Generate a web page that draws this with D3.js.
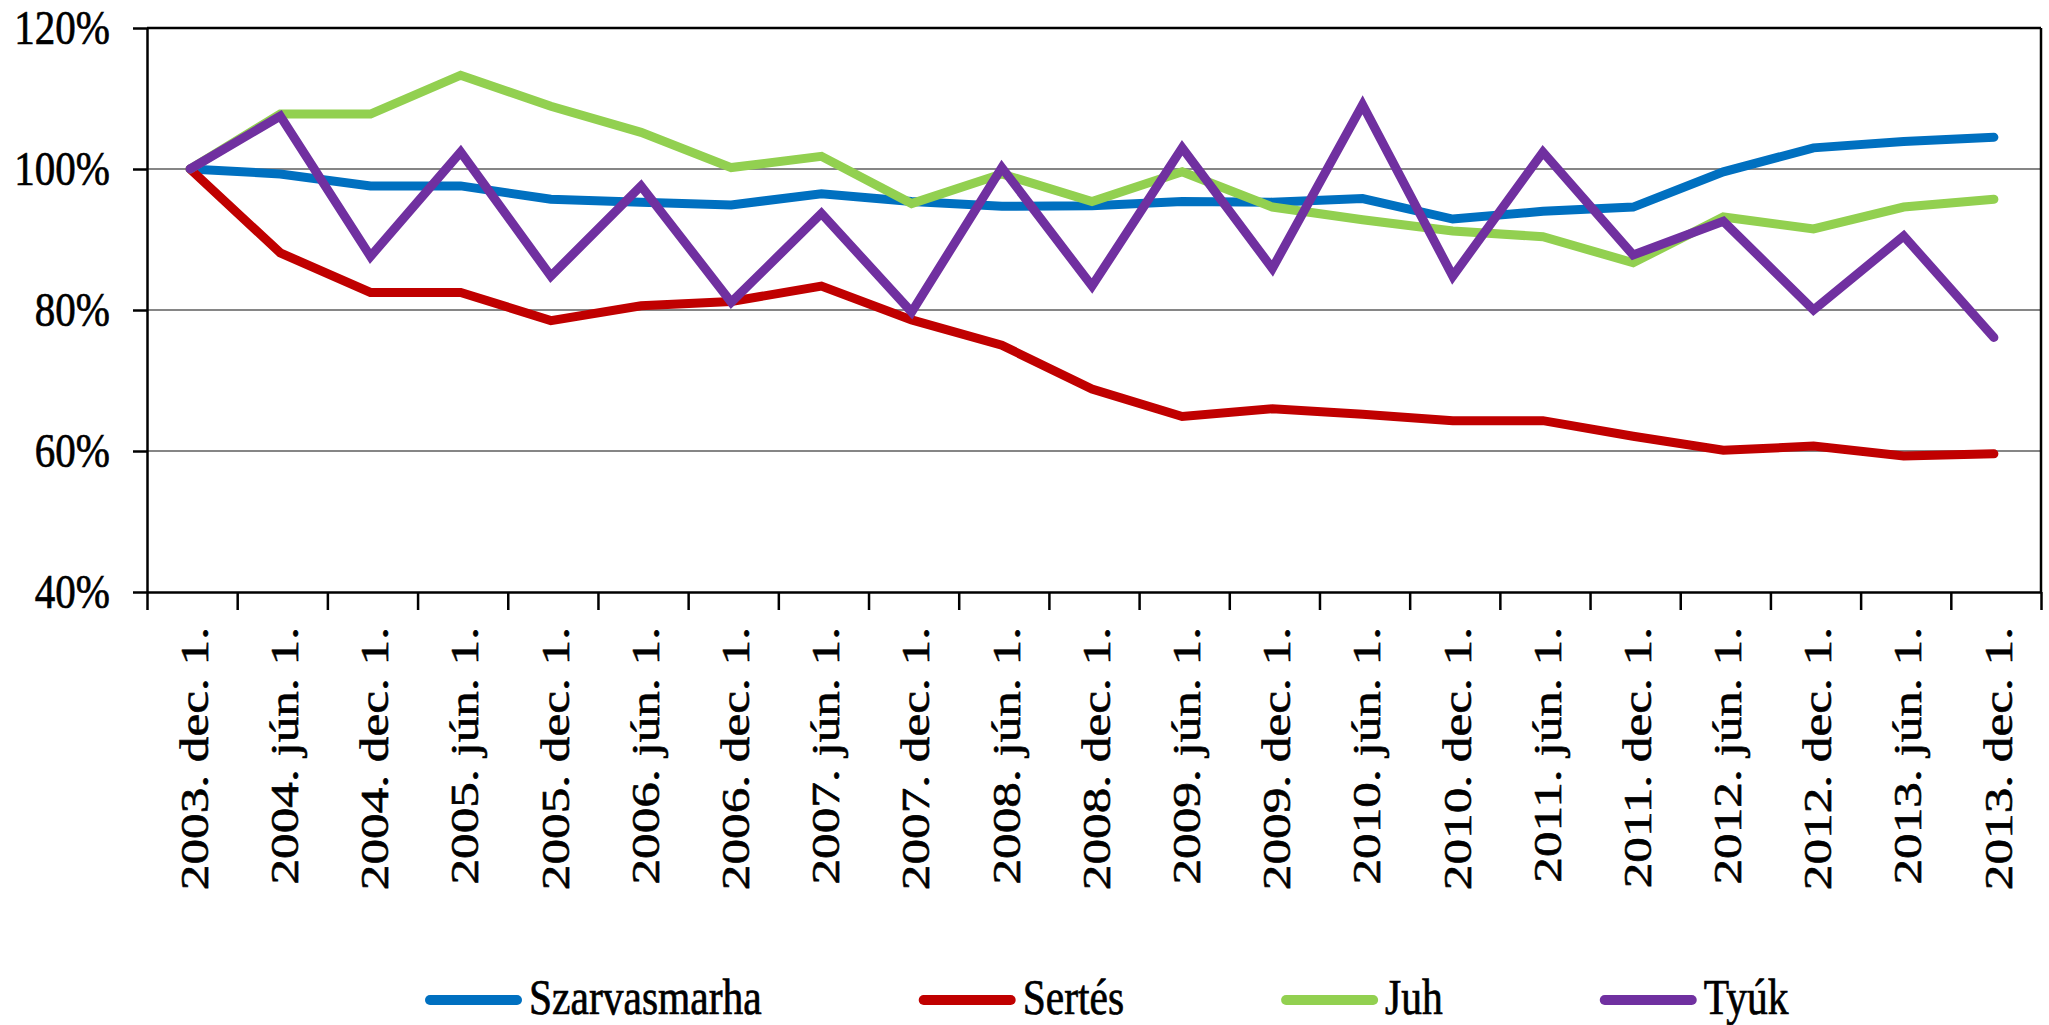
<!DOCTYPE html>
<html>
<head>
<meta charset="utf-8">
<script src="https://cdn.jsdelivr.net/npm/d3@7"></script>
<style>
  html, body { margin: 0; padding: 0; background: #fff; }
</style>
</head>
<body>
<div id="chart"></div>
<script>
// ---------- data ----------
const categories = [
  '2003. dec. 1.', '2004. jún. 1.', '2004. dec. 1.', '2005. jún. 1.', '2005. dec. 1.',
  '2006. jún. 1.', '2006. dec. 1.', '2007. jún. 1.', '2007. dec. 1.', '2008. jún. 1.',
  '2008. dec. 1.', '2009. jún. 1.', '2009. dec. 1.', '2010. jún. 1.', '2010. dec. 1.',
  '2011. jún. 1.', '2011. dec. 1.', '2012. jún. 1.', '2012. dec. 1.', '2013. jún. 1.',
  '2013. dec. 1.'
];

const szarvasmarha = [100, 99.3, 97.6, 97.6, 95.7, 95.3, 94.9, 96.5, 95.4, 94.7, 94.8, 95.4, 95.3, 95.8, 92.9, 94.0, 94.6, 99.6, 103.0, 103.9, 104.5];
const sertes       = [100, 88.1, 82.5, 82.5, 78.5, 80.6, 81.2, 83.4, 78.6, 75.0, 68.8, 64.9, 66.0, 65.2, 64.3, 64.3, 62.1, 60.1, 60.7, 59.3, 59.6];
const juh          = [100, 107.8, 107.8, 113.3, 108.9, 105.2, 100.2, 101.8, 95.1, 99.3, 95.4, 99.6, 94.6, 92.8, 91.2, 90.4, 86.7, 93.2, 91.5, 94.6, 95.7];
const tyuk         = [100, 107.5, 87.6, 102.4, 84.8, 97.6, 81.1, 93.7, 79.7, 100.2, 83.4, 103.0, 85.9, 109.1, 84.8, 102.4, 87.8, 92.6, 80.0, 90.5, 76.1];

const yTicks = [40, 60, 80, 100, 120];

const series = [
  { name: 'Szarvasmarha', values: szarvasmarha, color: '#0070C0' },
  { name: 'Sertés', values: sertes, color: '#C00000' },
  { name: 'Juh', values: juh, color: '#92D050' },
  { name: 'Tyúk', values: tyuk, color: '#7030A0' }
];

const serifFont = 'Liberation Serif';

// ---------- layout ----------
const width = 2049, height = 1025;
const margin = { top: 28, right: 8, bottom: 433, left: 147 };
const innerW = width - margin.left - margin.right;
const innerH = height - margin.top - margin.bottom;

const svg = d3.select('#chart').append('svg')
  .attr('width', width)
  .attr('height', height);

const g = svg.append('g')
  .attr('transform', 'translate(' + margin.left + ',' + margin.top + ')');

const xScale = d3.scaleBand().domain(categories).range([0, innerW]).padding(0);
const xEdge = d3.scaleLinear().domain([0, categories.length]).range([0, innerW]);
const yScale = d3.scaleLinear().domain([40, 120]).range([innerH, 0]);

/* ----------grid------------*/
g.append('g')
  .attr('class', 'grid')
  .selectAll('line')
  .data(yTicks.filter(d => d !== 40 && d !== 120))
  .enter()
  .append('line')
  .attr('x1', 0)
  .attr('x2', innerW)
  .attr('y1', d => yScale(d))
  .attr('y2', d => yScale(d))
  .style('stroke', '#868686')
  .style('stroke-width', 2);

/* ----------frame (top + right)------------*/
g.append('line')
  .attr('x1', 0).attr('x2', innerW).attr('y1', 0).attr('y2', 0)
  .style('stroke', '#000').style('stroke-width', 2.5);
g.append('line')
  .attr('x1', innerW).attr('x2', innerW).attr('y1', 0).attr('y2', innerH)
  .style('stroke', '#000').style('stroke-width', 2.5);

/* ----------y axis------------*/
const yAxis = g.append('g')
  .attr('class', 'axis axis--y')
  .call(d3.axisLeft(yScale).tickValues(yTicks).tickSize(14).tickSizeOuter(0).tickFormat(d => d + '%'));

yAxis.attr('font-family', serifFont).attr('font-size', null);
yAxis.select('.domain').style('stroke', '#000').style('stroke-width', 2.5);
yAxis.selectAll('.tick line').style('stroke', '#000').style('stroke-width', 2.5);
yAxis.selectAll('.tick text')
  .attr('x', -37)
  .attr('dy', '0.33em')
  .attr('transform', 'scale(1,1.16)')
  .style('font-family', serifFont)
  .style('font-size', '41px')
  .style('fill', '#000')
  .style('stroke', '#000')
  .style('stroke-width', 0.6)
  .style('text-anchor', 'end');

/* ----------x axis: ticks on category edges------------*/
const xTickAxis = g.append('g')
  .attr('class', 'axis axis--x-ticks')
  .attr('transform', 'translate(0,' + innerH + ')')
  .call(d3.axisBottom(xEdge).tickValues(d3.range(0, categories.length + 1)).tickSize(18).tickSizeOuter(0).tickFormat(''));

xTickAxis.select('.domain').style('stroke', '#000').style('stroke-width', 2.5);
xTickAxis.selectAll('.tick line').style('stroke', '#000').style('stroke-width', 2.5);

/* ----------x axis: labels on category centres------------*/
const xLabelAxis = g.append('g')
  .attr('class', 'axis axis--x')
  .attr('transform', 'translate(0,' + innerH + ')')
  .call(d3.axisBottom(xScale).tickSize(0));

xLabelAxis.attr('font-family', serifFont).attr('font-size', null);
xLabelAxis.select('.domain').remove();
xLabelAxis.selectAll('.tick text')
  .attr('x', 0)
  .attr('y', 0)
  .attr('dy', '0.36em')
  .attr('transform', 'translate(1,35) rotate(-90) scale(1.25,1)')
  .style('font-family', serifFont)
  .style('font-size', '41px')
  .style('fill', '#000')
  .style('stroke', '#000')
  .style('stroke-width', 0.6)
  .style('text-anchor', 'end');

/* ----------lines------------*/
const line = d3.line()
  .x((d, i) => xScale(categories[i]) + xScale.bandwidth() / 2 - 2)
  .y(d => yScale(d));

g.append('g')
  .attr('class', 'line-g')
  .selectAll('path')
  .data(series)
  .enter()
  .append('path')
  .attr('d', d => line(d.values))
  .style('fill', 'none')
  .style('stroke', d => d.color)
  .style('stroke-width', 9)
  .style('stroke-linejoin', 'miter')
  .style('stroke-linecap', 'round');

/* ----------legend------------*/
const legend = svg.append('g')
  .attr('class', 'legend')
  .attr('transform', 'translate(0,1000)');

let legendX = 425;
series.forEach(s => {
  const item = legend.append('g').attr('transform', 'translate(' + legendX + ',0)');
  item.append('line')
    .attr('x1', 5).attr('x2', 92).attr('y1', 0).attr('y2', 0)
    .style('stroke', s.color)
    .style('stroke-width', 10)
    .style('stroke-linecap', 'round');
  const t = item.append('text')
    .attr('transform', 'translate(104,14) scale(1,1.2)')
    .style('font-family', serifFont)
    .style('font-size', '41.5px')
    .style('fill', '#000')
    .style('stroke', '#000')
    .style('stroke-width', 0.6)
    .text(s.name);
  legendX += 104 + t.node().getComputedTextLength() + 157;
});
</script>
</body>
</html>
